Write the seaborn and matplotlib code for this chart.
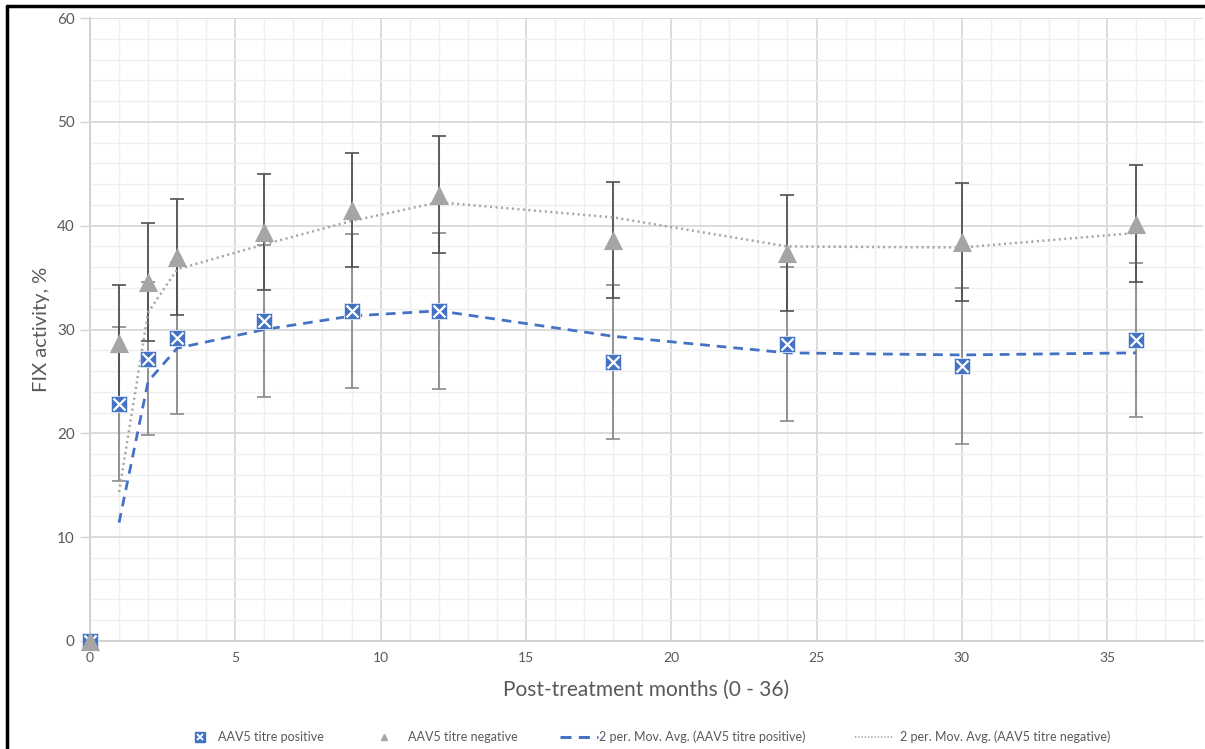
import numpy as np
import pandas as pd
import matplotlib.pyplot as plt
import matplotlib.lines as mlines
from matplotlib.legend_handler import HandlerTuple
from matplotlib.ticker import MultipleLocator
import seaborn as sns

# ---------------------------------------------------------------------------
# data
# ---------------------------------------------------------------------------
months = [0, 1, 2, 3, 6, 9, 12, 18, 24, 30, 36]
fix_positive = [0, 22.8, 27.2, 29.2, 30.8, 31.8, 31.8, 26.9, 28.6, 26.5, 29.0]
fix_negative = [0, 28.7, 34.6, 37.0, 39.4, 41.5, 43.0, 38.6, 37.4, 38.4, 40.2]
err_positive = [0, 7.4, 7.4, 7.3, 7.3, 7.4, 7.5, 7.4, 7.45, 7.5, 7.45]
err_negative = [0, 5.6, 5.7, 5.6, 5.6, 5.5, 5.6, 5.6, 5.6, 5.7, 5.6]
legend_labels = ['AAV5 titre positive', 'AAV5 titre negative',
                 '2 per. Mov. Avg. (AAV5 titre positive)',
                 '2 per. Mov. Avg. (AAV5 titre negative)']

df = pd.DataFrame({
    'month': months,
    'positive': fix_positive,
    'negative': fix_negative,
    'err_pos': err_positive,
    'err_neg': err_negative,
})
# Excel "2 per. Mov. Avg." trendlines
df['ma_pos'] = df['positive'].rolling(2).mean()
df['ma_neg'] = df['negative'].rolling(2).mean()

BLUE = '#4472C4'
GREY = '#A5A5A5'
TEXT = '#595959'

sns.set_theme(style='white')
plt.rcParams['font.family'] = ['Lato', 'DejaVu Sans']

fig = plt.figure(figsize=(12.05, 7.49), dpi=100)
ax = fig.add_axes([90 / 1205, 1 - 641 / 749, (1203 - 90) / 1205, (641 - 18) / 749])

# grid
ax.xaxis.set_major_locator(MultipleLocator(5))
ax.xaxis.set_minor_locator(MultipleLocator(1))
ax.yaxis.set_major_locator(MultipleLocator(10))
ax.yaxis.set_minor_locator(MultipleLocator(2))
ax.grid(which='major', color='#d9d9d9', linewidth=1.3)
ax.grid(which='minor', color='#efefef', linewidth=1.0)
ax.set_axisbelow(True)

# error bars
ax.errorbar(df['month'][1:], df['positive'][1:], yerr=df['err_pos'][1:], fmt='none',
            ecolor='#8a8a8a', elinewidth=1.3, capsize=5, capthick=1.2, zorder=2)
ax.errorbar(df['month'][1:], df['negative'][1:], yerr=df['err_neg'][1:], fmt='none',
            ecolor='#505050', elinewidth=1.3, capsize=5, capthick=1.2, zorder=2)

# moving averages
sns.lineplot(data=df, x='month', y='ma_pos', ax=ax, color=BLUE, linewidth=2,
             linestyle=(0, (3.5, 2.5)), zorder=3)
sns.lineplot(data=df, x='month', y='ma_neg', ax=ax, color=GREY, linewidth=1.8,
             linestyle=(0, (0.8, 1.4)), zorder=3)

# markers
sns.scatterplot(data=df, x='month', y='positive', ax=ax, marker='s', s=130,
                color=BLUE, edgecolor='#dfe8f6', linewidth=0.6, zorder=4, clip_on=False)
sns.scatterplot(data=df, x='month', y='positive', ax=ax, marker='x', s=75,
                color='white', linewidth=1.6, zorder=5, clip_on=False)
sns.scatterplot(data=df, x='month', y='negative', ax=ax, marker='^', s=190,
                color=GREY, edgecolor=GREY, linewidth=0, zorder=6, clip_on=False)

ax.set_xlim(0, 38.3)
ax.set_ylim(0, 60)

for side in ['top', 'right']:
    ax.spines[side].set_visible(False)
ax.spines['left'].set_color('#d0d0d0')
ax.spines['bottom'].set_color('#d0d0d0')
ax.spines['left'].set_linewidth(1.3)
ax.spines['bottom'].set_linewidth(1.3)
ax.tick_params(axis='y', which='major', length=7, width=1, color='#d0d0d0',
               labelsize=11, labelcolor=TEXT, pad=4, left=True)
ax.tick_params(axis='x', which='major', length=0, labelsize=10, labelcolor=TEXT, pad=8)
ax.tick_params(which='minor', length=0)

ax.set_xlabel('Post-treatment months (0 - 36)', fontsize=15, color=TEXT, labelpad=11)
ax.set_ylabel('FIX activity, %', fontsize=14.5, color=TEXT, labelpad=5)

# legend: one entry per legend so each sits where Excel put it
h_sq = mlines.Line2D([], [], marker='s', color=BLUE, linestyle='none', markersize=7.5)
h_x = mlines.Line2D([], [], marker='x', color='white', linestyle='none', markersize=5,
                    markeredgewidth=1.3)
h_tri = mlines.Line2D([], [], marker='^', color=GREY, linestyle='none', markersize=4)
h_mp = mlines.Line2D([], [], color=BLUE, linewidth=2.2, linestyle=(0, (3.6, 2.4)))
h_mn = mlines.Line2D([], [], color=GREY, linewidth=1.3, linestyle=(0, (0.7, 1.1)))

entries = [((h_sq, h_x), 194, 1.0, 0.9),
           (h_tri, 378, 1.0, 1.4),
           (h_mp, 560, 3.0, 0.15),
           (h_mn, 855, 3.0, 0.6)]
for (handle, x0, hlen, hpad), label in zip(entries, legend_labels):
    fig.legend([handle], [label],
               handler_map={tuple: HandlerTuple(ndivide=1, pad=0)},
               loc='center left', bbox_to_anchor=(x0 / 1205, 1 - 737 / 749),
               frameon=False, fontsize=9, labelcolor=TEXT, borderpad=0,
               borderaxespad=0, handlelength=hlen, handletextpad=hpad)

# black frame of the screenshot
fig.add_artist(mlines.Line2D([7 / 1205, 7 / 1205], [0, 1 - 6 / 749], color='black',
                             linewidth=2.5, transform=fig.transFigure))
fig.add_artist(mlines.Line2D([7 / 1205, 1], [1 - 6 / 749, 1 - 6 / 749], color='black',
                             linewidth=2.5, transform=fig.transFigure))

fig.savefig('out.png', dpi=100)
